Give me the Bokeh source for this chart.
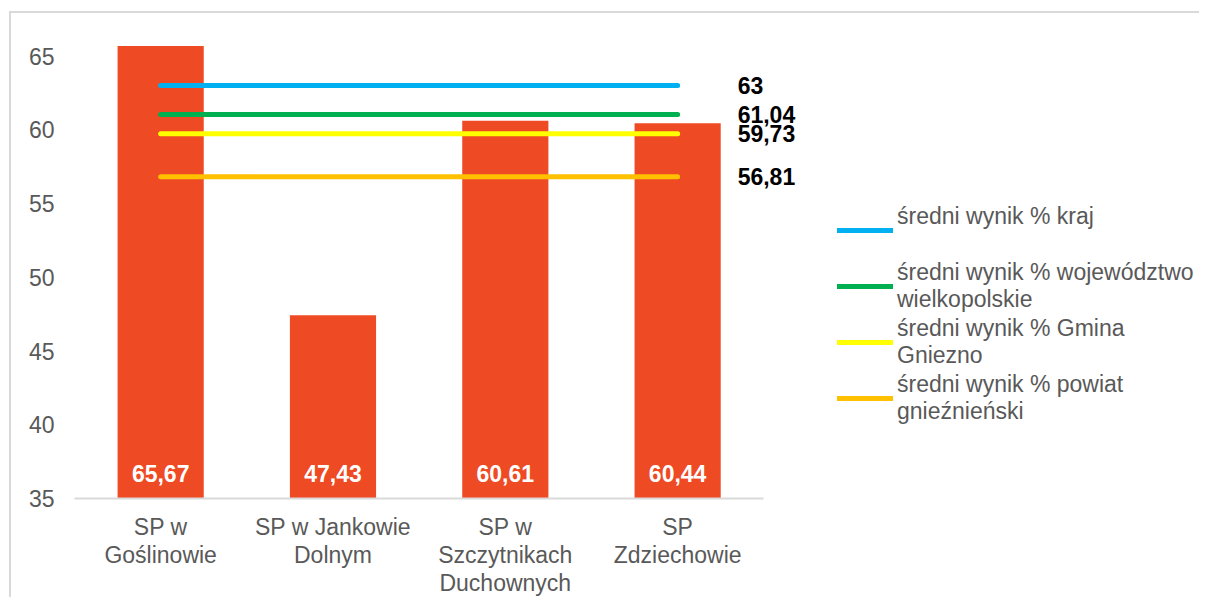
import numpy as np
from bokeh.plotting import figure
from bokeh.models import ColumnDataSource, Range1d, Legend, LegendItem, FixedTicker
from bokeh.core.properties import value
from bokeh.embed import file_html
from bokeh.resources import INLINE

schools = ["SP w\nGoślinowie", "SP w Jankowie\nDolnym", "SP w\nSzczytnikach\nDuchownych", "SP\nZdziechowie"]
school_scores = [65.67, 47.43, 60.61, 60.44]

ref_names = ["średni wynik % kraj\n ", "średni wynik % województwo\nwielkopolskie",
             "średni wynik % Gmina\nGniezno", "średni wynik % powiat\ngnieźnieński"]
ref_values = [63.0, 61.04, 59.73, 56.81]
ref_labels = ["63", "61,04", "59,73", "56,81"]
ref_colors = ["#00B0F0", "#00B050", "#FFFF00", "#FFC000"]

y_min, y_max = 35, 67
y_ticks = [35, 40, 45, 50, 55, 60, 65]

FONT = "Liberation Sans"
GRAY = "#595959"
BAR = "#EE4A24"
FS = "23px"

n = len(schools)
xpos = np.arange(n) + 0.5

p = figure(x_range=Range1d(0, 6.54), y_range=Range1d(y_min, y_max),
           width=1190, height=586, output_backend="svg", toolbar_location=None,
           min_border_left=63, min_border_right=0, min_border_top=13, min_border_bottom=100)
p.outline_line_color = None
p.grid.grid_line_color = None
p.styles = {"border-left": "2px solid #d9d9d9", "border-top": "2px solid #d9d9d9",
            "margin-left": "9px", "margin-top": "11px"}

bars = ColumnDataSource(dict(x=xpos, top=school_scores,
                             lab=[f"{v:.2f}".replace(".", ",") for v in school_scores],
                             base=[y_min] * n))
p.vbar(x="x", top="top", bottom=y_min, width=0.5, source=bars, color=BAR, line_color=None)
p.text(x="x", y="base", text="lab", source=bars, text_color="white",
       text_font=value(FONT), text_font_style="bold", text_font_size=FS,
       text_align="center", text_baseline="middle", y_offset=-25)

items = []
for name, v, lab, c in zip(ref_names, ref_values, ref_labels, ref_colors):
    src = ColumnDataSource(dict(x0=[xpos[0]], x1=[xpos[-1]], y=[v], t=[lab]))
    r = p.segment(x0="x0", y0="y", x1="x1", y1="y", source=src, line_color=c,
                  line_width=5, line_cap="round")
    p.text(x="x1", y="y", text="t", source=src, text_color="black",
           text_font=value(FONT), text_font_style="bold", text_font_size=FS,
           text_align="left", text_baseline="middle", x_offset=60)
    items.append(LegendItem(label=name, renderers=[r]))

legend = Legend(items=items, location=(763, 73), orientation="vertical",
                label_text_font=FONT, label_text_font_size=FS, label_text_color=GRAY,
                glyph_width=56, glyph_height=28, label_standoff=4, label_height=28,
                label_text_line_height=1.35, spacing=2, padding=0, margin=0,
                border_line_color=None, background_fill_alpha=0)
p.add_layout(legend, "center")

p.yaxis.ticker = y_ticks
p.yaxis.axis_line_color = None
p.yaxis.major_tick_line_color = None
p.yaxis.minor_tick_line_color = None
p.yaxis.major_tick_out = 0
p.yaxis.major_label_text_font = FONT
p.yaxis.major_label_text_font_size = FS
p.yaxis.major_label_text_color = GRAY
p.yaxis.major_label_standoff = 20

p.xaxis.ticker = FixedTicker(ticks=list(xpos))
p.xaxis.major_label_overrides = {float(x): s for x, s in zip(xpos, schools)}
p.xaxis.bounds = (0, n)
p.xaxis.axis_line_color = "#D9D9D9"
p.xaxis.axis_line_width = 2
p.xaxis.major_tick_line_color = None
p.xaxis.minor_tick_line_color = None
p.xaxis.major_tick_out = 0
p.xaxis.major_label_text_font = FONT
p.xaxis.major_label_text_font_size = FS
p.xaxis.major_label_text_color = GRAY
p.xaxis.major_label_text_line_height = 1.09
p.xaxis.major_label_standoff = 15

open("out.html", "w").write(file_html(p, INLINE))
